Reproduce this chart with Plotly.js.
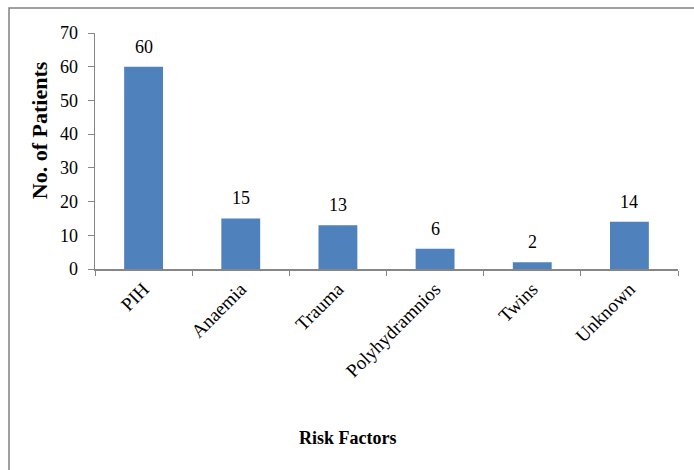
<!DOCTYPE html>
<html><head><meta charset="utf-8">
<script src="https://cdn.plot.ly/plotly-3.0.1.min.js"></script>
<style>body{margin:0;background:#fff}#c{width:694px;height:470px}</style>
</head><body><div id="c"></div>
<script>
const categories = ["PIH","Anaemia","Trauma","Polyhydramnios","Twins","Unknown"];
const patients = [60,15,13,6,2,14];
const yTitle = "No. of Patients";
const xTitle = "Risk Factors";

const font = '"Liberation Serif", serif';
const axisColor = "#868686";
const labelAnns = categories.map((c, i) => ({
  x: c, y: patients[i], xref: "x", yref: "y", text: String(patients[i]),
  showarrow: false, yanchor: "bottom", yshift: 8,
  font: {family: font, size: 18, color: "#000"}
}));
Plotly.newPlot("c", [{
  type: "bar", x: categories, y: patients,
  marker: {color: "#4F81BD"},
  width: 0.4
}], {
  width: 694, height: 470,
  margin: {l: 95, r: 16, t: 33, b: 201},
  paper_bgcolor: "#fff", plot_bgcolor: "#fff",
  showlegend: false,
  font: {family: font, size: 18, color: "#000"},
  xaxis: {type: "category", tickangle: -45, tickson: "boundaries", ticks: "outside", ticklen: 5,
    tickcolor: axisColor, showline: true, linecolor: axisColor, linewidth: 1.5, showgrid: false,
    tickfont: {family: font, size: 19, color: "#000"}},
  yaxis: {range: [0, 70], dtick: 10, ticks: "outside", ticklen: 6, tickcolor: axisColor,
    showline: true, linecolor: axisColor, linewidth: 1.5, showgrid: false, zeroline: false,
    ticklabelstandoff: 6,
    tickfont: {family: font, size: 18, color: "#000"}},
  annotations: labelAnns.concat([
    {text: "<b>" + yTitle + "</b>", textangle: -90, xref: "paper", yref: "paper",
     x: -0.094, y: 0.589, showarrow: false, xanchor: "center", yanchor: "middle",
     font: {family: font, size: 22, color: "#000"}},
    {text: "<b>" + xTitle + "</b>", xref: "paper", yref: "paper",
     x: 0.434, y: -0.716, showarrow: false, xanchor: "center", yanchor: "middle",
     font: {family: font, size: 18, color: "#000"}}
  ]),
  shapes: [{type: "rect", xref: "paper", yref: "paper", x0: -0.1475, x1: 1.2, y0: -1.0, y1: 1.106,
    line: {color: "#808080", width: 1.5}, fillcolor: "rgba(0,0,0,0)", layer: "below"}]
}, {displayModeBar: false, staticPlot: true});
</script></body></html>
